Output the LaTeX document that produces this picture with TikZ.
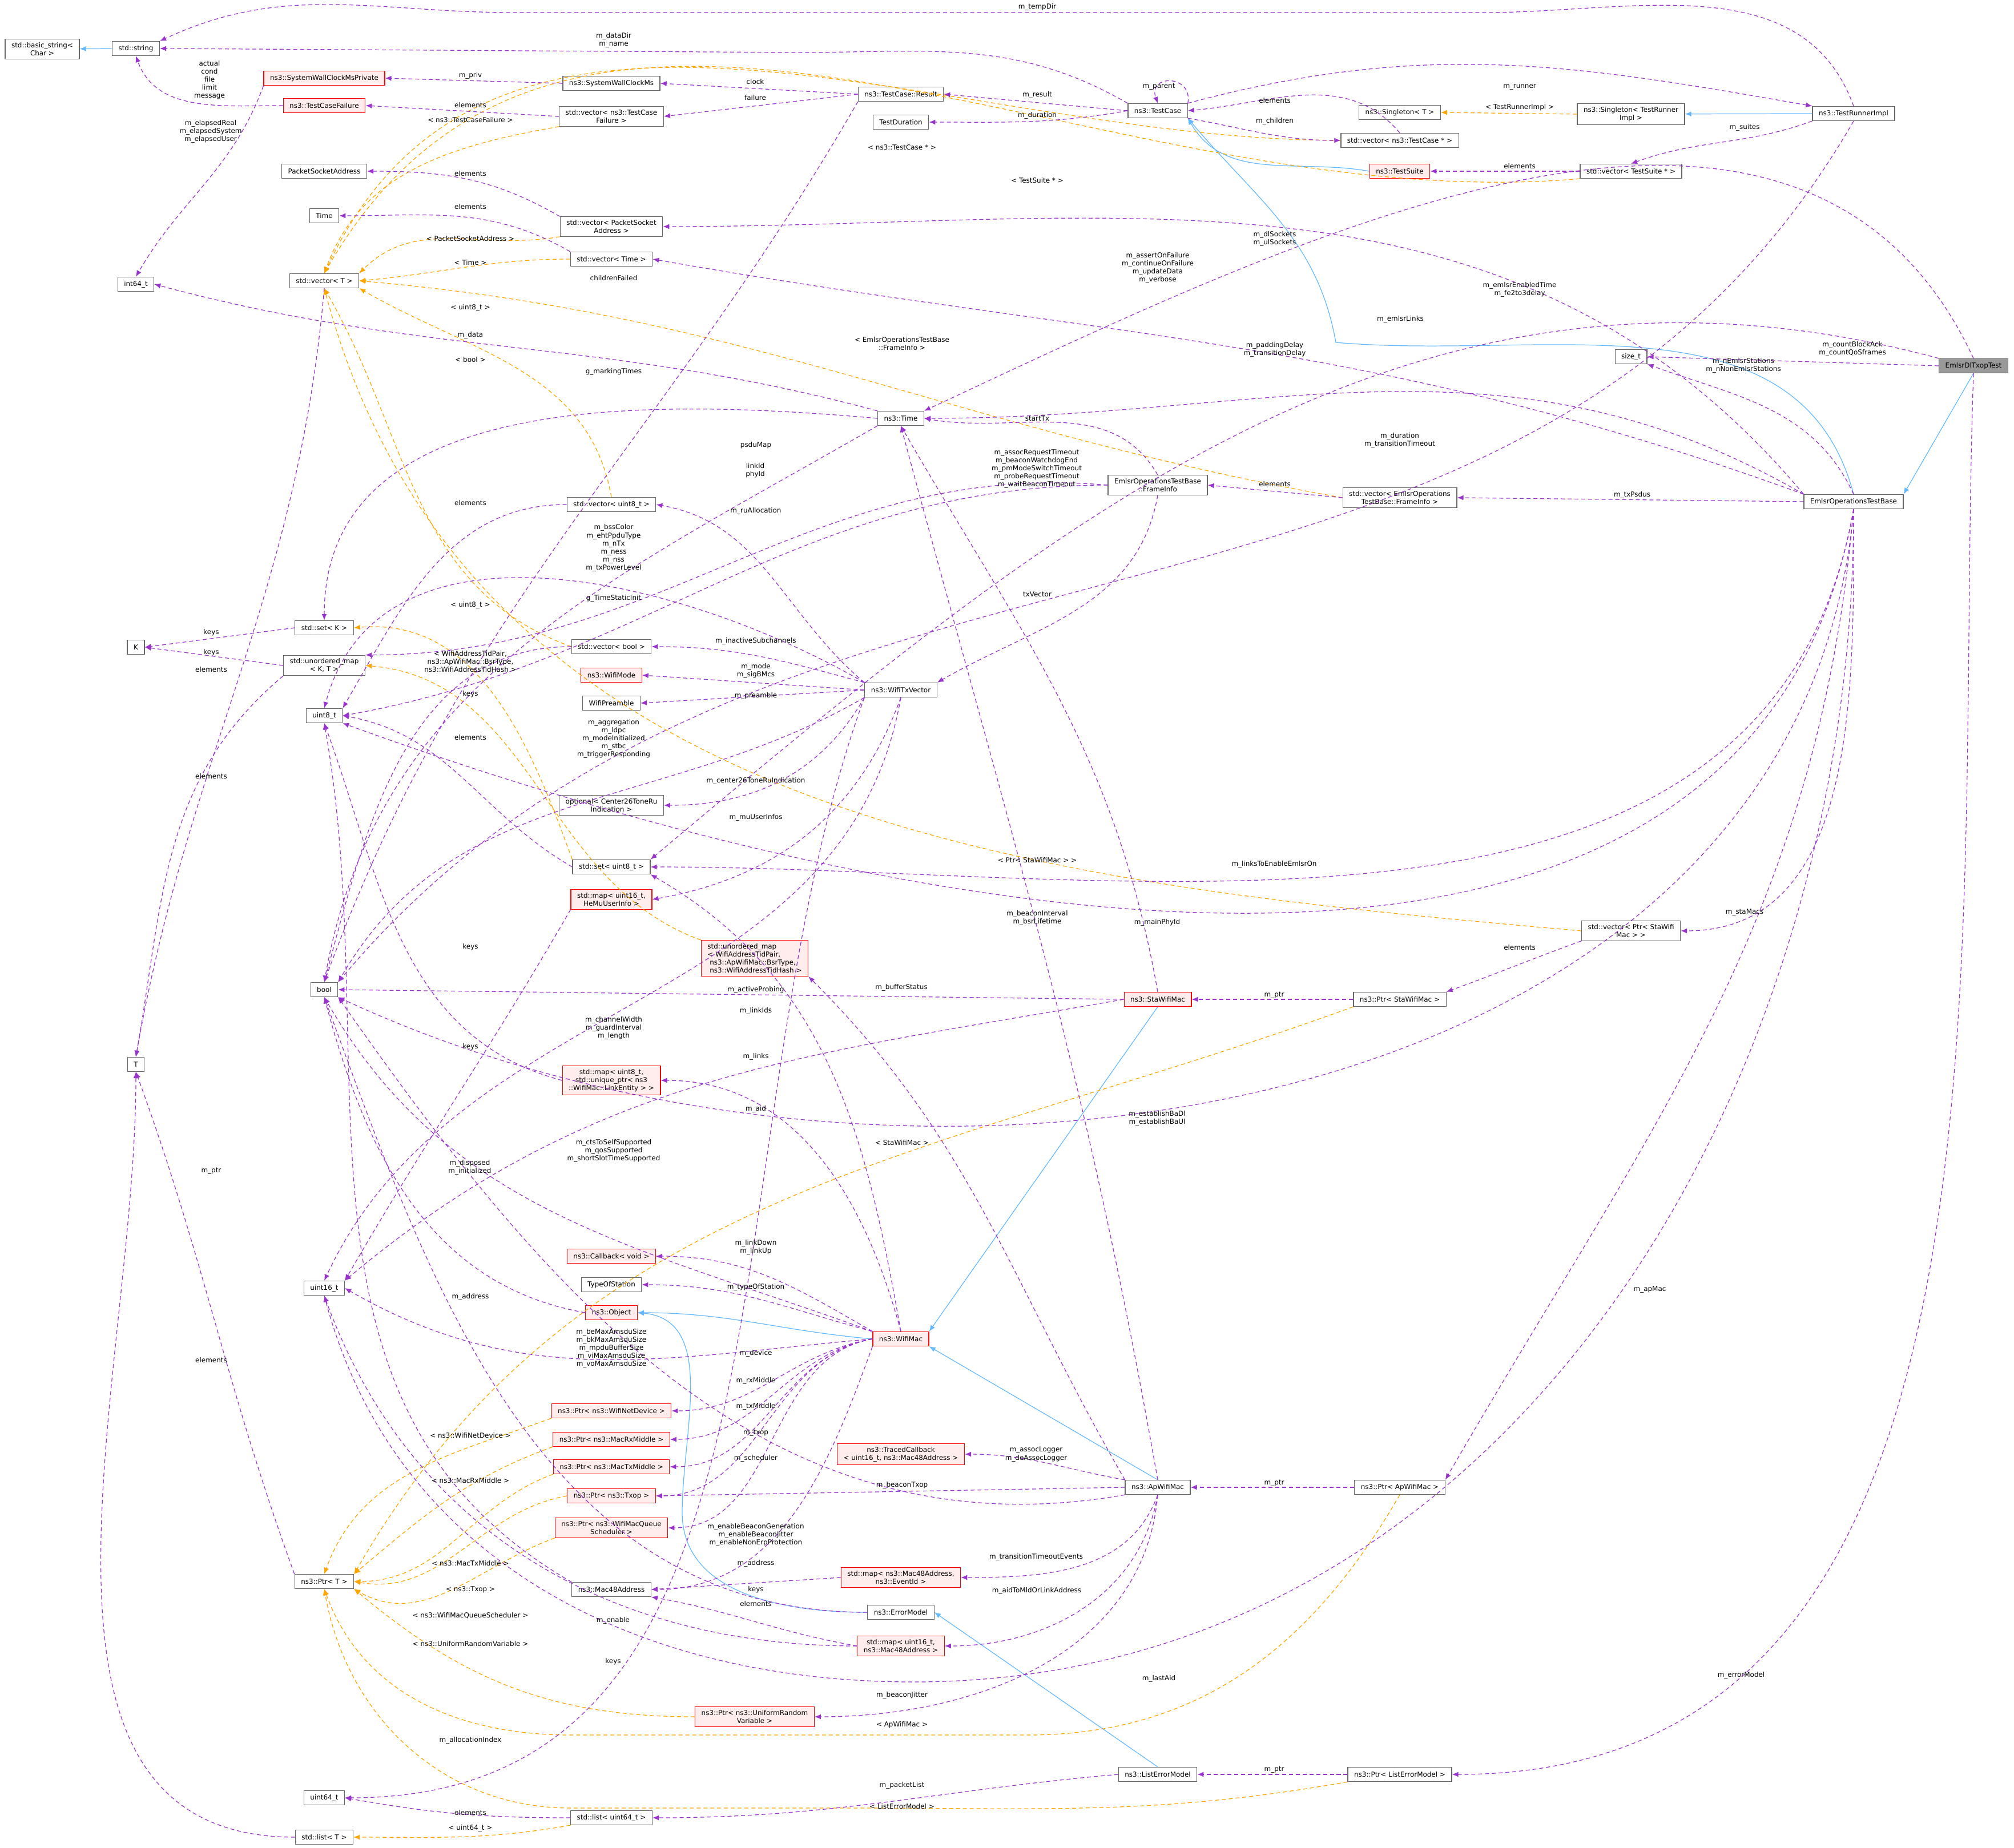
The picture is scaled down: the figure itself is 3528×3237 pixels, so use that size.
\documentclass[tikz,border=0pt]{standalone}
\usepackage{fontspec}
\setmainfont{DejaVu Sans}
\usetikzlibrary{arrows.meta}
\definecolor{memc}{HTML}{9A32CD}
\definecolor{tplc}{HTML}{FFA500}
\definecolor{inhc}{HTML}{63B8FF}
\newcommand{\elab}[3]{\node[edgelbl] (#1) at (#2) {#3};}
\begin{document}
\begin{tikzpicture}[x=0.01cm, y=0.01cm]
	\tikzstyle{cls} = [draw=black!60, line width=0.35pt, fill=white, inner xsep=1.1mm, inner ysep=0.55mm, minimum height=0.25cm, align=center, font={\fontsize{3.4}{4}\selectfont}];
	\tikzstyle{undoc} = [cls, draw=red, fill=red!7];
	\tikzstyle{self} = [cls, fill=black!40];
	\tikzstyle{edgelbl} = [inner sep=0pt, align=center, font={\fontsize{3.4}{4}\selectfont}];
	\tikzstyle{member} = [draw=memc, line width=0.35pt, dash pattern=on 2pt off 1.4pt, -{Latex[length=1.1mm,width=0.9mm]}];
	\tikzstyle{tmpl} = [member, draw=tplc, -{Latex[length=1.1mm,width=0.9mm,fill=tplc]}];
	\tikzstyle{inherit} = [draw=inhc, line width=0.35pt, -{Latex[length=1.1mm,width=0.9mm]}];

	\useasboundingbox (0,0) rectangle (3528,-3237);

	% left columns
	\node[cls] (bstr) at (74,-86) {std::basic\_string\textless\\Char \textgreater};
	\node[cls] (str) at (238,-85) {std::string};
	\node[cls] (i64) at (238,-498) {int64\_t};
	\node[cls] (K) at (238,-1134) {K};
	\node[cls] (T) at (238,-1865) {T};

	\node[undoc] (swcp) at (568,-137) {ns3::SystemWallClockMsPrivate};
	\node[undoc] (tcf) at (568,-185) {ns3::TestCaseFailure};
	\node[cls] (psa) at (568,-300) {PacketSocketAddress};
	\node[cls] (time) at (568,-378) {Time};
	\node[cls] (vecT) at (568,-492) {std::vector\textless{} T \textgreater};
	\node[cls] (setK) at (568,-1100) {std::set\textless{} K \textgreater};
	\node[cls] (umapKT) at (568,-1166) {std::unordered\_map\\\textless{} K, T \textgreater};
	\node[cls] (u8) at (568,-1254) {uint8\_t};
	\node[cls] (bool) at (568,-1734) {bool};
	\node[cls] (u16) at (568,-2257) {uint16\_t};
	\node[cls] (ptrT) at (568,-2771) {ns3::Ptr\textless{} T \textgreater};
	\node[cls] (u64) at (568,-3150) {uint64\_t};
	\node[cls] (listT) at (568,-3219) {std::list\textless{} T \textgreater};

	% middle column
	\node[cls] (swcm) at (1071,-146) {ns3::SystemWallClockMs};
	\node[cls] (vtcf) at (1071,-204) {std::vector\textless{} ns3::TestCase\\Failure \textgreater};
	\node[cls] (vpsa) at (1071,-397) {std::vector\textless{} PacketSocket\\Address \textgreater};
	\node[cls] (vtime) at (1071,-454) {std::vector\textless{} Time \textgreater};
	\node[cls] (vu8) at (1071,-884) {std::vector\textless{} uint8\_t \textgreater};
	\node[cls] (vbool) at (1071,-1133) {std::vector\textless{} bool \textgreater};
	\node[undoc] (wmode) at (1071,-1183) {ns3::WifiMode};
	\node[cls] (wpre) at (1071,-1232) {WifiPreamble};
	\node[cls] (opt) at (1071,-1411) {optional\textless{} Center26ToneRu\\Indication \textgreater};
	\node[cls] (setu8) at (1071,-1519) {std::set\textless{} uint8\_t \textgreater};
	\node[undoc] (mapHe) at (1071,-1576) {std::map\textless{} uint16\_t,\\HeMuUserInfo \textgreater};
	\node[undoc] (mapLink) at (1071,-1893) {std::map\textless{} uint8\_t,\\std::unique\_ptr\textless{} ns3\\::WifiMac::LinkEntity \textgreater{} \textgreater};
	\node[undoc] (cb) at (1071,-2201) {ns3::Callback\textless{} void \textgreater};
	\node[cls] (tos) at (1071,-2251) {TypeOfStation};
	\node[undoc] (obj) at (1071,-2300) {ns3::Object};
	\node[undoc] (pDev) at (1071,-2472) {ns3::Ptr\textless{} ns3::WifiNetDevice \textgreater};
	\node[undoc] (pRx) at (1071,-2522) {ns3::Ptr\textless{} ns3::MacRxMiddle \textgreater};
	\node[undoc] (pTx) at (1071,-2570) {ns3::Ptr\textless{} ns3::MacTxMiddle \textgreater};
	\node[undoc] (pTxop) at (1071,-2621) {ns3::Ptr\textless{} ns3::Txop \textgreater};
	\node[undoc] (pSch) at (1071,-2677) {ns3::Ptr\textless{} ns3::WifiMacQueue\\Scheduler \textgreater};
	\node[cls] (mac48) at (1071,-2785) {ns3::Mac48Address};
	\node[cls] (listu64) at (1071,-3185) {std::list\textless{} uint64\_t \textgreater};

	\node[undoc, align=left] (umapW) at (1322,-1679) {std::unordered\_map\\\textless{} WifiAddressTidPair,\\\ ns3::ApWifiMac::BsrType,\\\ ns3::WifiAddressTidHash \textgreater};
	\node[undoc] (pUrv) at (1322,-3008) {ns3::Ptr\textless{} ns3::UniformRandom\\Variable \textgreater};

	\node[cls] (res) at (1578,-165) {ns3::TestCase::Result};
	\node[cls] (tdur) at (1578,-214) {TestDuration};
	\node[cls] (ntime) at (1578,-733) {ns3::Time};
	\node[cls] (txv) at (1578,-1209) {ns3::WifiTxVector};
	\node[undoc] (wmac) at (1578,-2346) {ns3::WifiMac};
	\node[undoc] (tcb) at (1578,-2548) {ns3::TracedCallback\\\textless{} uint16\_t, ns3::Mac48Address \textgreater};
	\node[undoc] (mapEv) at (1578,-2764) {std::map\textless{} ns3::Mac48Address,\\ns3::EventId \textgreater};
	\node[cls] (errm) at (1578,-2825) {ns3::ErrorModel};
	\node[undoc] (mapAid) at (1578,-2884) {std::map\textless{} uint16\_t,\\ns3::Mac48Address \textgreater};

	\node[cls] (tcase) at (2028,-194) {ns3::TestCase};
	\node[cls] (finfo) at (2028,-850) {EmlsrOperationsTestBase\\::FrameInfo};
	\node[undoc] (sta) at (2028,-1751) {ns3::StaWifiMac};
	\node[cls] (ap) at (2028,-2606) {ns3::ApWifiMac};
	\node[cls] (lem) at (2028,-3109) {ns3::ListErrorModel};

	% right columns
	\node[cls] (sgT) at (2452,-197) {ns3::Singleton\textless{} T \textgreater};
	\node[cls] (vtc) at (2452,-246) {std::vector\textless{} ns3::TestCase * \textgreater};
	\node[undoc] (tsuite) at (2452,-300) {ns3::TestSuite};
	\node[cls] (vfi) at (2452,-872) {std::vector\textless{} EmlsrOperations\\TestBase::FrameInfo \textgreater};
	\node[cls] (psta) at (2452,-1751) {ns3::Ptr\textless{} StaWifiMac \textgreater};
	\node[cls] (pap) at (2452,-2606) {ns3::Ptr\textless{} ApWifiMac \textgreater};
	\node[cls] (plem) at (2452,-3109) {ns3::Ptr\textless{} ListErrorModel \textgreater};

	\node[cls] (sgR) at (2857,-200) {ns3::Singleton\textless{} TestRunner\\Impl \textgreater};
	\node[cls] (vts) at (2857,-300) {std::vector\textless{} TestSuite * \textgreater};
	\node[cls] (sizet) at (2857,-625) {size\_t};
	\node[cls] (vsta) at (2857,-1631) {std::vector\textless{} Ptr\textless{} StaWifi\\Mac \textgreater{} \textgreater};

	\node[cls] (runner) at (3247,-199) {ns3::TestRunnerImpl};
	\node[cls] (base) at (3247,-879) {EmlsrOperationsTestBase};
	\node[self] (dltx) at (3457,-641) {EmlsrDlTxopTest};

	% inheritance
	\draw[inherit] (str) -- (bstr);
	\draw[inherit] (runner) -- (sgR);
	\draw[inherit] (tsuite.west) to[out=170,in=-60] (tcase.south east);
	\draw[inherit] (base.north) to[out=105,in=-5] (2340,-600) to[out=100,in=-50] (tcase.south east);
	\draw[inherit] (dltx.south) -- (base.north east);
	\draw[inherit] (sta.south) -- (wmac.north east);
	\draw[inherit] (ap.north) -- (wmac.south east);
	\draw[inherit] (wmac.west) to[out=175,in=0] (obj.east);
	\draw[inherit] (errm.west) to[out=180,in=-90] (1195,-2650) to[out=90,in=-5] (obj.east);
	\draw[inherit] (lem.north) -- (errm.east);

	% template instances
	\draw[tmpl] (vtcf.south west) to[out=190,in=70] (vecT.north);
	\draw[tmpl] (vtc.west) to[out=180,in=65] (vecT.north);
	\draw[tmpl] (vts.south west) to[out=185,in=60] (vecT.north);
	\draw[tmpl] (vpsa.south west) to[out=190,in=45] (vecT.north east);
	\draw[tmpl] (vtime.west) to[out=180,in=5] (vecT.east);
	\draw[tmpl] (vu8.north) to[out=100,in=-30] (vecT.south east);
	\draw[tmpl] (vbool.west) to[out=160,in=-60] (vecT.south);
	\draw[tmpl] (vfi.west) to[out=170,in=-5] (vecT.east);
	\draw[tmpl] (vsta.west) to[out=175,in=-75] (vecT.south);
	\draw[tmpl] (setu8.north west) to[out=110,in=5] (setK.east);
	\draw[tmpl] (umapW.north west) to[out=160,in=-5] (umapKT.east);
	\draw[tmpl] (sgR.west) -- (sgT.east);
	\draw[tmpl] (pDev.south west) to[out=200,in=70] (ptrT.north);
	\draw[tmpl] (pRx.south west) to[out=200,in=40] (ptrT.north east);
	\draw[tmpl] (pTx.south west) to[out=200,in=0] (ptrT.east);
	\draw[tmpl] (pTxop.west) to[out=190,in=-10] (ptrT.east);
	\draw[tmpl] (pSch.south west) to[out=200,in=-30] (ptrT.south east);
	\draw[tmpl] (pUrv.west) to[out=180,in=-40] (ptrT.south east);
	\draw[tmpl] (psta.south west) to[out=200,in=60] (ptrT.north east);
	\draw[tmpl] (pap.south) to[out=-120,in=0] (1800,-3040) -- (1000,-3040) to[out=180,in=-70] (ptrT.south);
	\draw[tmpl] (plem.south west) to[out=190,in=0] (1500,-3168) -- (1000,-3168) to[out=180,in=-80] (ptrT.south);
	\draw[tmpl] (listu64.south west) to[out=190,in=0] (listT.east);

	% members
	\draw[member] (runner.north) to[out=110,in=0] (2600,-22) -- (900,-22) to[out=180,in=25] (str.north east);
	\draw[member] (tcase.north west) to[out=150,in=0] (1400,-92) -- (str.east);
	\draw[member] (tcf.west) to[out=180,in=-70] (str.south);
	\draw[member] (swcp.south west) to[out=-110,in=60] (i64.north);
	\draw[member] (swcm.west) -- (swcp.east);
	\draw[member] (vtcf.west) -- (tcf.east);
	\draw[member] (vpsa.north west) to[out=150,in=0] (psa.east);
	\draw[member] (vtime.north west) to[out=150,in=0] (time.east);
	\draw[member] (ntime.north west) to[out=165,in=-15] (i64.east);
	\draw[member] (res.south west) to[out=-120,in=70] (bool.north);
	\draw[member] (ntime.west) to[out=175,in=90] (setK.north);
	\draw[member] (ntime.south west) to[out=-150,in=80] (bool.north);
	\draw[member] (vu8.west) to[out=180,in=60] (u8.north east);
	\draw[member] (txv.north west) to[out=150,in=75] (u8.north);
	\draw[member] (setK.west) -- (K.east);
	\draw[member] (umapKT.west) -- (K.east);
	\draw[member] (umapKT.south west) to[out=-140,in=80] (T.north);
	\draw[member] (finfo.west) to[out=175,in=0] (umapKT.north east);
	\draw[member] (vbool.west) to[out=180,in=75] (bool.north);
	\draw[member] (setu8.west) to[out=150,in=-10] (u8.east);
	\draw[member] (txv.south west) to[out=-150,in=60] (bool.north east);
	\draw[member] (mapHe.south west) to[out=-120,in=60] (u16.north east);
	\draw[member] (mapLink.west) to[out=165,in=-70] (u8.south);
	\draw[member] (vecT.south) to[out=-95,in=80] (T.north);
	\draw[member] (txv.south) to[out=-100,in=65] (u16.north);
	\draw[member] (wmac.north west) to[out=160,in=-60] (bool.south);
	\draw[member] (obj.west) to[out=170,in=-75] (bool.south);
	\draw[member] (ptrT.north west) to[out=110,in=-70] (T.south);
	\draw[member] (listT.west) to[out=180,in=-90] (T.south);
	\draw[member] (mac48.north west) to[out=150,in=-80] (u8.south);
	\draw[member] (wmac.west) to[out=185,in=-30] (u16.east);
	\draw[member] (errm.west) to[out=180,in=-70] (bool.south);
	\draw[member] (mapAid.west) to[out=180,in=-70] (u16.south);
	\draw[member] (base.south) to[out=-90,in=0] (1600,-2947) to[out=180,in=-75] (u16.south);
	\draw[member] (txv.south west) to[out=-110,in=0] (u64.east);
	\draw[member] (listu64.west) to[out=180,in=-10] (u64.east);
	\draw[member] (lem.west) to[out=185,in=0] (listu64.east);
	\draw[member] (res.west) -- (swcm.east);
	\draw[member] (res.west) -- (vtcf.east);
	\draw[member] (tcase.west) -- (res.east);
	\draw[member] (tcase.west) to[out=190,in=0] (tdur.east);
	\draw[member] (tcase.north east) .. controls (2090,-130) and (2010,-130) .. (tcase.north);
	\draw[member] (vtc.north) to[out=130,in=5] (tcase.east);
	\draw[member] (tcase.south east) to[out=-10,in=180] (vtc.west);
	\draw[member] (tcase.north east) to[out=15,in=170] (runner.north west);
	\draw[member] (runner.south west) to[out=-160,in=20] (vts.north);
	\draw[member] (vts.west) -- (tsuite.east);
	\draw[member] (base.north west) to[out=130,in=0] (vpsa.east);
	\draw[member] (runner.south) to[out=-120,in=50] (bool.north east);
	\draw[member] (base.north west) to[out=160,in=-10] (vtime.east);
	\draw[member] (dltx.north) to[out=115,in=25] (ntime.north east);
	\draw[member] (dltx.north west) to[out=165,in=40] (setu8.north east);
	\draw[member] (dltx.west) -- (sizet.east);
	\draw[member] (base.north) to[out=115,in=-20] (sizet.south east);
	\draw[member] (base.north west) to[out=150,in=0] (ntime.east);
	\draw[member] (base.west) -- (vfi.east);
	\draw[member] (vfi.west) -- (finfo.east);
	\draw[member] (finfo.north) to[out=120,in=-10] (ntime.east);
	\draw[member] (finfo.west) to[out=180,in=10] (u8.east);
	\draw[member] (sta.north) to[out=100,in=-60] (ntime.south);
	\draw[member] (finfo.south) to[out=-100,in=30] (txv.north east);
	\draw[member] (txv.north west) to[out=140,in=-10] (vu8.east);
	\draw[member] (txv.north west) to[out=165,in=0] (vbool.east);
	\draw[member] (txv.west) -- (wmode.east);
	\draw[member] (txv.west) -- (wpre.east);
	\draw[member] (txv.south west) to[out=-120,in=0] (opt.east);
	\draw[member] (txv.south) to[out=-110,in=10] (mapHe.east);
	\draw[member] (base.south) to[out=-100,in=0] (setu8.east);
	\draw[member] (ap.north) to[out=100,in=-75] (ntime.south);
	\draw[member] (base.south) to[out=-100,in=-20] (u8.south east);
	\draw[member] (sta.west) -- (bool.east);
	\draw[member] (ap.north west) to[out=120,in=-45] (umapW.south east);
	\draw[member] (psta.west) -- (sta.east);
	\draw[member] (wmac.north) to[out=100,in=-30] (setu8.south east);
	\draw[member] (wmac.north) to[out=105,in=0] (mapLink.east);
	\draw[member] (sta.west) to[out=190,in=40] (u16.north east);
	\draw[member] (base.south) to[out=-95,in=-25] (bool.south east);
	\draw[member] (vsta.south west) to[out=-160,in=20] (psta.north east);
	\draw[member] (base.south) to[out=-90,in=0] (vsta.east);
	\draw[member] (wmac.north west) to[out=150,in=0] (cb.east);
	\draw[member] (wmac.north west) to[out=165,in=0] (tos.east);
	\foreach \dst in {pDev, pRx, pTx, pTxop, pSch} {
		\draw[member] (wmac.west) to[out=190,in=0] (\dst.east);
	}
	\draw[member] (ap.north west) to[out=170,in=0] (tcb.east);
	\draw[member] (ap.west) -- (pTxop.east);
	\draw[member] (ap.south west) to[out=190,in=-55] (bool.south east);
	\draw[member] (wmac.south west) to[out=-110,in=0] (mac48.east);
	\draw[member] (mapEv.west) -- (mac48.east);
	\draw[member] (mapAid.west) to[out=170,in=-10] (mac48.south east);
	\draw[member] (ap.south) to[out=-110,in=0] (mapEv.east);
	\draw[member] (ap.south) to[out=-100,in=0] (mapAid.east);
	\draw[member] (ap.south) to[out=-95,in=0] (pUrv.east);
	\draw[member] (pap.west) -- (ap.east);
	\draw[member] (plem.west) -- (lem.east);
	\draw[member] (base.south) to[out=-95,in=60] (pap.north east);
	\draw[member] (dltx.south) to[out=-92,in=0] (plem.east);

	% connector labels
	\elab{lTemp}{1817,-12}{m\_tempDir}
	\elab{lData}{1075,-70}{m\_dataDir\\m\_name}
	\elab{lAct}{367,-140}{actual\\cond\\file\\limit\\message}
	\elab{lElap}{369,-230}{m\_elapsedReal\\m\_elapsedSystem\\m\_elapsedUser}
	\elab{lPriv}{824,-132}{m\_priv}
	\elab{lTcfE}{824,-184}{elements}
	\elab{lTcfT}{824,-210}{\textless{} ns3::TestCaseFailure \textgreater}
	\elab{lTcT}{1580,-258}{\textless{} ns3::TestCase * \textgreater}
	\elab{lTsT}{1817,-316}{\textless{} TestSuite * \textgreater}
	\elab{lPsaE}{824,-304}{elements}
	\elab{lPsaT}{824,-418}{\textless{} PacketSocketAddress \textgreater}
	\elab{lTimeE}{824,-362}{elements}
	\elab{lTimeT}{824,-460}{\textless{} Time \textgreater}
	\elab{lU8T}{824,-539}{\textless{} uint8\_t \textgreater}
	\elab{lBoolT}{824,-630}{\textless{} bool \textgreater}
	\elab{lFiT}{1580,-602}{\textless{} EmlsrOperationsTestBase\\::FrameInfo \textgreater}
	\elab{lStaT}{1817,-1507}{\textless{} Ptr\textless{} StaWifiMac \textgreater{} \textgreater}
	\elab{lMData}{824,-587}{m\_data}
	\elab{lChild}{1075,-487}{childrenFailed}
	\elab{lMark}{1075,-651}{g\_markingTimes}
	\elab{lStatic}{1075,-1048}{g\_TimeStaticInit}
	\elab{lVu8E}{824,-881}{elements}
	\elab{lBss}{1075,-960}{m\_bssColor\\m\_ehtPpduType\\m\_nTx\\m\_ness\\m\_nss\\m\_txPowerLevel}
	\elab{lSetT}{824,-1060}{\textless{} uint8\_t \textgreater}
	\elab{lKeys1}{370,-1108}{keys}
	\elab{lKeys2}{370,-1143}{keys}
	\elab{lElem1}{370,-1173}{elements}
	\elab{lUmT}{824,-1159}{\textless{} WifiAddressTidPair,\\ns3::ApWifiMac::BsrType,\\ns3::WifiAddressTidHash \textgreater}
	\elab{lVbE}{824,-1292}{elements}
	\elab{lSetK}{824,-1216}{keys}
	\elab{lAggr}{1075,-1294}{m\_aggregation\\m\_ldpc\\m\_modeInitialized\\m\_stbc\\m\_triggerResponding}
	\elab{lHeK}{824,-1659}{keys}
	\elab{lLinkK}{824,-1834}{keys}
	\elab{lVecTE}{370,-1360}{elements}
	\elab{lChan}{1075,-1801}{m\_channelWidth\\m\_guardInterval\\m\_length}
	\elab{lCts}{1075,-2016}{m\_ctsToSelfSupported\\m\_qosSupported\\m\_shortSlotTimeSupported}
	\elab{lDisp}{823,-2045}{m\_disposed\\m\_initialized}
	\elab{lPtr}{370,-2052}{m\_ptr}
	\elab{lListE}{370,-2383}{elements}
	\elab{lAddr}{824,-2272}{m\_address}
	\elab{lAmsdu}{1071,-2362}{m\_beMaxAmsduSize\\m\_bkMaxAmsduSize\\m\_mpduBufferSize\\m\_viMaxAmsduSize\\m\_voMaxAmsduSize}
	\elab{lDevT}{824,-2515}{\textless{} ns3::WifiNetDevice \textgreater}
	\elab{lRxT}{824,-2594}{\textless{} ns3::MacRxMiddle \textgreater}
	\elab{lTxT}{824,-2739}{\textless{} ns3::MacTxMiddle \textgreater}
	\elab{lTxopT}{824,-2785}{\textless{} ns3::Txop \textgreater}
	\elab{lSchT}{824,-2831}{\textless{} ns3::WifiMacQueueScheduler \textgreater}
	\elab{lUrvT}{824,-2880}{\textless{} ns3::UniformRandomVariable \textgreater}
	\elab{lStaPT}{1580,-2002}{\textless{} StaWifiMac \textgreater}
	\elab{lApT}{1580,-3022}{\textless{} ApWifiMac \textgreater}
	\elab{lLemT}{1580,-3165}{\textless{} ListErrorModel \textgreater}
	\elab{lEnable}{1074,-2839}{m\_enable}
	\elab{lAidK}{1074,-2911}{keys}
	\elab{lLastAid}{2030,-2941}{m\_lastAid}
	\elab{lAlloc}{824,-3049}{m\_allocationIndex}
	\elab{lLu64E}{824,-3176}{elements}
	\elab{lLu64T}{824,-3203}{\textless{} uint64\_t \textgreater}
	\elab{lPkt}{1580,-3128}{m\_packetList}
	\elab{lClock}{1323,-143}{clock}
	\elab{lFail}{1323,-171}{failure}
	\elab{lRes}{1817,-166}{m\_result}
	\elab{lDur}{1817,-202}{m\_duration}
	\elab{lParent}{2030,-152}{m\_parent}
	\elab{lTcE}{2233,-176}{elements}
	\elab{lChildren}{2233,-212}{m\_children}
	\elab{lRunner}{2662,-153}{m\_runner}
	\elab{lSgT}{2662,-188}{\textless{} TestRunnerImpl \textgreater}
	\elab{lSuites}{3056,-223}{m\_suites}
	\elab{lTsE}{2662,-291}{elements}
	\elab{lSock}{2233,-418}{m\_dlSockets\\m\_ulSockets}
	\elab{lAssert}{2028,-469}{m\_assertOnFailure\\m\_continueOnFailure\\m\_updateData\\m\_verbose}
	\elab{lPad}{2233,-612}{m\_paddingDelay\\m\_transitionDelay}
	\elab{lEnTime}{2662,-507}{m\_emlsrEnabledTime\\m\_fe2to3delay}
	\elab{lEmLinks}{2453,-559}{m\_emlsrLinks}
	\elab{lCount}{3245,-611}{m\_countBlockAck\\m\_countQoSframes}
	\elab{lNSta}{3054,-640}{m\_nEmlsrStations\\m\_nNonEmlsrStations}
	\elab{lDurT}{2452,-771}{m\_duration\\m\_transitionTimeout}
	\elab{lPsdus}{2859,-867}{m\_txPsdus}
	\elab{lFiE}{2233,-848}{elements}
	\elab{lStart}{1817,-733}{startTx}
	\elab{lPsdu}{1324,-780}{psduMap}
	\elab{lLink}{1323,-824}{linkId\\phyId}
	\elab{lAssoc}{1816,-821}{m\_assocRequestTimeout\\m\_beaconWatchdogEnd\\m\_pmModeSwitchTimeout\\m\_probeRequestTimeout\\m\_waitBeaconTimeout}
	\elab{lTxv}{1817,-1041}{txVector}
	\elab{lRuAl}{1324,-895}{m\_ruAllocation}
	\elab{lInact}{1324,-1123}{m\_inactiveSubchannels}
	\elab{lMode}{1324,-1175}{m\_mode\\m\_sigBMcs}
	\elab{lPre}{1324,-1219}{m\_preamble}
	\elab{lC26}{1324,-1368}{m\_center26ToneRuIndication}
	\elab{lMu}{1324,-1432}{m\_muUserInfos}
	\elab{lToEn}{2232,-1514}{m\_linksToEnableEmlsrOn}
	\elab{lBeacon}{1817,-1608}{m\_beaconInterval\\m\_bsrLifetime}
	\elab{lMainPhy}{2027,-1616}{m\_mainPhyId}
	\elab{lProbe}{1324,-1734}{m\_activeProbing}
	\elab{lBsr}{1579,-1730}{m\_bufferStatus}
	\elab{lStaPtr}{2232,-1744}{m\_ptr}
	\elab{lLinkIds}{1324,-1771}{m\_linkIds}
	\elab{lLinks}{1324,-1851}{m\_links}
	\elab{lAid}{1324,-1943}{m\_aid}
	\elab{lBa}{2027,-1959}{m\_establishBaDl\\m\_establishBaUl}
	\elab{lVstaE}{2662,-1660}{elements}
	\elab{lStaMacs}{3056,-1599}{m\_staMacs}
	\elab{lLinkUp}{1324,-2185}{m\_linkDown\\m\_linkUp}
	\elab{lTos}{1324,-2255}{m\_typeOfStation}
	\elab{lDev}{1324,-2371}{m\_device}
	\elab{lRx}{1324,-2419}{m\_rxMiddle}
	\elab{lTx}{1324,-2464}{m\_txMiddle}
	\elab{lTxop}{1324,-2511}{m\_txop}
	\elab{lSch}{1324,-2555}{m\_scheduler}
	\elab{lLog}{1815,-2548}{m\_assocLogger\\m\_deAssocLogger}
	\elab{lBTxop}{1580,-2602}{m\_beaconTxop}
	\elab{lEnBeacon}{1324,-2689}{m\_enableBeaconGeneration\\m\_enableBeaconJitter\\m\_enableNonErpProtection}
	\elab{lMAddr}{1324,-2739}{m\_address}
	\elab{lEvK}{1324,-2785}{keys}
	\elab{lAidE}{1324,-2810}{elements}
	\elab{lTrans}{1815,-2728}{m\_transitionTimeoutEvents}
	\elab{lAidMld}{1816,-2787}{m\_aidToMldOrLinkAddress}
	\elab{lJitter}{1580,-2970}{m\_beaconJitter}
	\elab{lApPtr}{2232,-2599}{m\_ptr}
	\elab{lLemPtr}{2232,-3101}{m\_ptr}
	\elab{lApMac}{2890,-2260}{m\_apMac}
	\elab{lErrM}{3050,-2935}{m\_errorModel}
\end{tikzpicture}
\end{document}
